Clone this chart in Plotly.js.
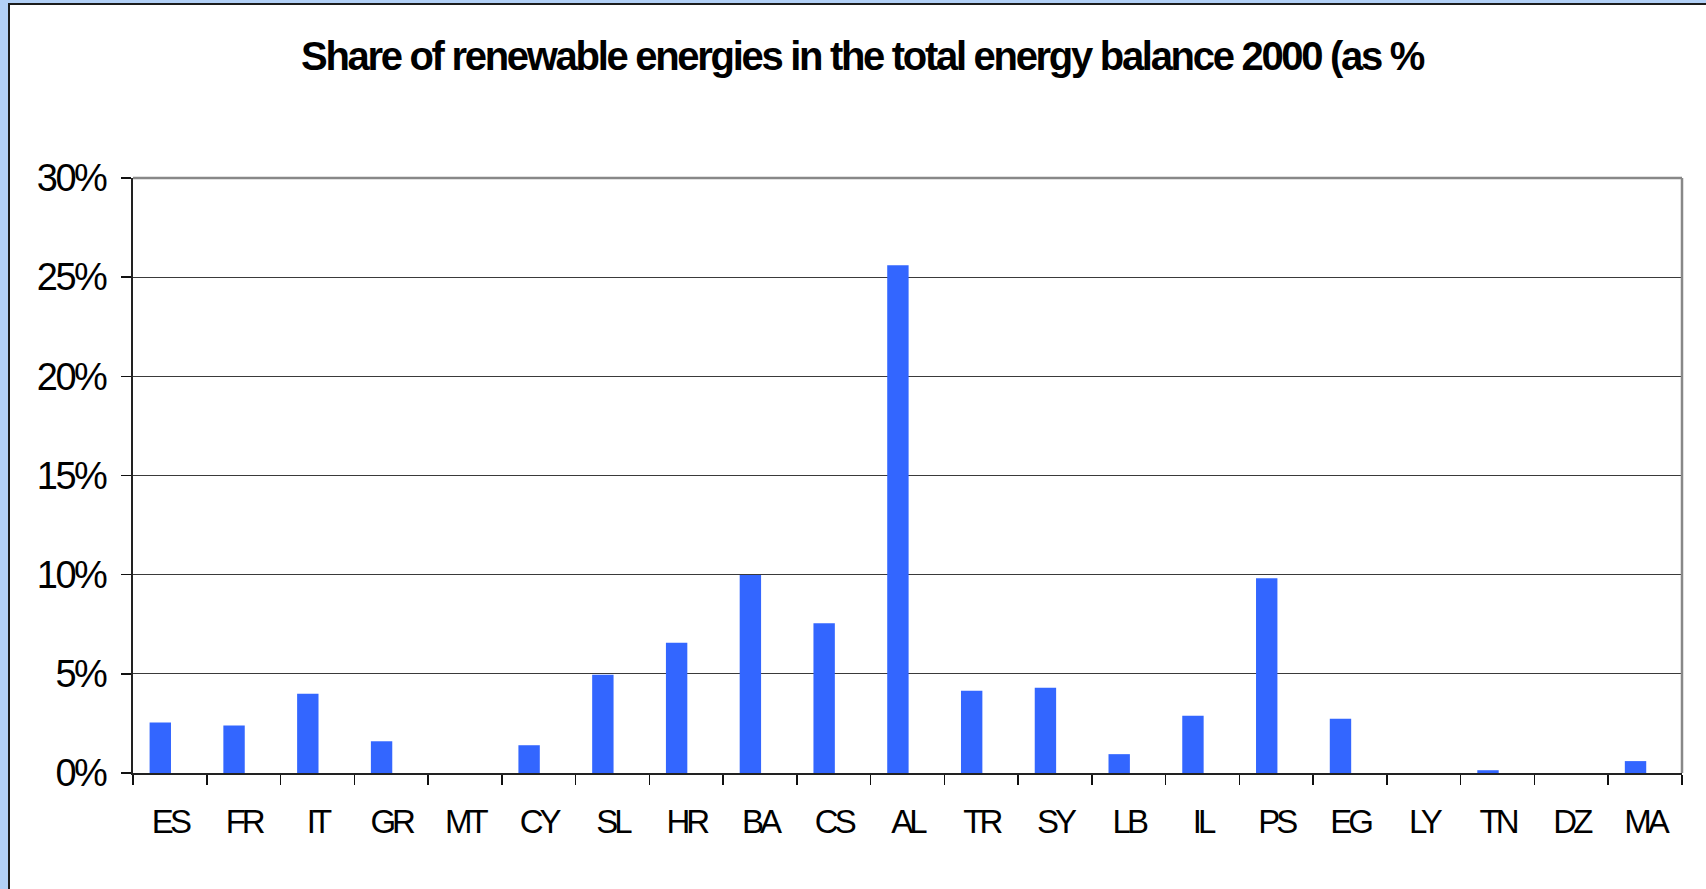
<!DOCTYPE html>
<html>
<head>
<meta charset="utf-8">
<script src="https://cdn.plot.ly/plotly-3.0.1.min.js"></script>
<style>
  html, body { margin: 0; padding: 0; width: 1706px; height: 889px; overflow: hidden;
    background: #b2d0f6; }
  #frame { position: absolute; left: 8px; top: 3px; width: 1698px; height: 886px;
    border-left: 2px solid #1c1c1c; border-top: 2px solid #1c1c1c; background: #fff; }
  #chart { width: 1696px; height: 884px; }
  .xtick text { letter-spacing: -4px; }
  .ytick text { letter-spacing: -2.5px; }
  .gtitle { letter-spacing: -2.3px; }
</style>
</head>
<body>
<div id="frame"><div id="chart"></div></div>
<script>
// Data (share in %)
const countries = ["ES","FR","IT","GR","MT","CY","SL","HR","BA","CS","AL","TR","SY","LB","IL","PS","EG","LY","TN","DZ","MA"];
const shares = [2.55, 2.4, 4.0, 1.6, 0, 1.4, 4.95, 6.57, 9.98, 7.55, 25.6, 4.15, 4.3, 0.95, 2.89, 9.82, 2.74, 0, 0.14, 0, 0.6];
const yTicks = [0, 5, 10, 15, 20, 25, 30];
const yTickLabels = yTicks.map(v => v + "%");
const titleText = "Share of renewable energies in the total energy balance 2000 (as %";

const trace = {
  type: "bar",
  x: countries,
  y: shares,
  width: 0.29,
  offset: -0.275,
  marker: { color: "#3366ff", line: { width: 0 } },
  hoverinfo: "skip"
};

const layout = {
  width: 1696,
  height: 884,
  margin: { l: 123, r: 24, t: 173, b: 116, pad: 0 },
  paper_bgcolor: "#ffffff",
  plot_bgcolor: "#ffffff",
  showlegend: false,
  font: { family: "Liberation Sans, Arial, sans-serif", color: "#000" },
  title: {
    text: titleText,
    font: { family: "Liberation Sans, Arial, sans-serif", size: 40, color: "#000", weight: "bold" },
    xref: "container", yref: "container",
    x: 291 / 1696, xanchor: "left",
    y: 1 - 51 / 884, yanchor: "middle"
  },
  xaxis: {
    type: "category",
    tickson: "boundaries",
    ticks: "outside",
    ticklen: 10,
    tickwidth: 1.5,
    tickcolor: "#111",
    showgrid: false,
    showline: true,
    linecolor: "#222",
    linewidth: 2,
    tickfont: { size: 33, color: "#000" },
    ticklabelstandoff: 18,
    fixedrange: true
  },
  yaxis: {
    range: [0, 30],
    tickmode: "array",
    tickvals: yTicks,
    ticktext: yTickLabels,
    ticks: "outside",
    ticklen: 10,
    tickwidth: 1.5,
    tickcolor: "#111",
    showgrid: true,
    gridcolor: "#3a3a3a",
    gridwidth: 1,
    zeroline: false,
    showline: true,
    linecolor: "#222",
    linewidth: 2,
    tickfont: { size: 38, color: "#000" },
    ticklabelstandoff: 8,
    fixedrange: true
  },
  shapes: [
    { type: "line", xref: "paper", yref: "paper", x0: 0, x1: 1, y0: 1, y1: 1,
      line: { color: "#888888", width: 2.5 }, layer: "above" },
    { type: "line", xref: "paper", yref: "paper", x0: 1, x1: 1, y0: 0, y1: 1,
      line: { color: "#888888", width: 2.5 }, layer: "above" }
  ]
};

Plotly.newPlot("chart", [trace], layout, { staticPlot: true, displayModeBar: false });
</script>
</body>
</html>
